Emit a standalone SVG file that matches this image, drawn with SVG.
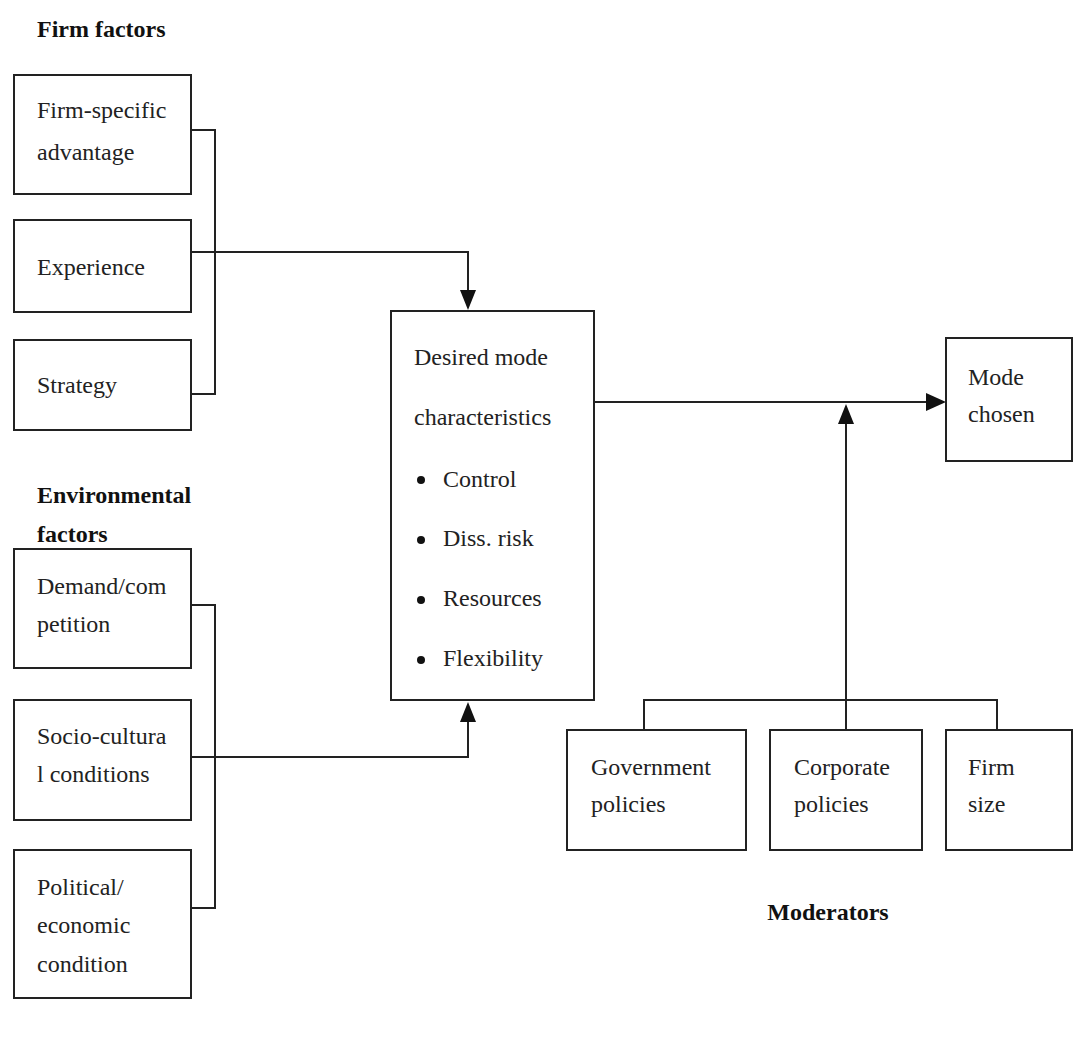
<svg xmlns="http://www.w3.org/2000/svg" width="1091" height="1037" viewBox="0 0 1091 1037">
<style>
.box{fill:#fff;stroke:#222;stroke-width:2}
.t{font-family:'Liberation Serif','Times New Roman','DejaVu Serif',serif;font-size:24px;fill:#222}
.h{font-family:'Liberation Serif','Times New Roman','DejaVu Serif',serif;font-size:24px;font-weight:bold;fill:#111}
.c{fill:none;stroke:#222;stroke-width:2}
</style>
<rect width="1091" height="1037" fill="#fff"/>
<text class="h" x="37" y="37">Firm factors</text>
<text class="h" x="37" y="503">Environmental</text>
<text class="h" x="37" y="542">factors</text>
<text class="h" x="828" y="920" text-anchor="middle">Moderators</text>

<g id="connectors">
<path class="c" d="M191,130 H215 V394 H191"/>
<path class="c" d="M191,252 H468 V294"/>
<path d="M460,290 L476,290 L468,310 z" fill="#111"/>
<path class="c" d="M191,605 H215 V908 H191"/>
<path class="c" d="M191,757 H468 V718"/>
<path d="M460,722 L476,722 L468,702 z" fill="#111"/>
<path class="c" d="M594,402 H930"/>
<path d="M926,393 L946,402 L926,411 z" fill="#111"/>
<path class="c" d="M846,730 V420"/>
<path d="M838,424 L854,424 L846,404 z" fill="#111"/>
<path class="c" d="M644,730 V700 H997 V730"/>
</g>

<g id="n-fsa"><rect class="box" x="14" y="75" width="177" height="119"/><text class="t" x="37" y="118">Firm-specific</text><text class="t" x="37" y="160">advantage</text></g>
<g id="n-exp"><rect class="box" x="14" y="220" width="177" height="92"/><text class="t" x="37" y="275">Experience</text></g>
<g id="n-strat"><rect class="box" x="14" y="340" width="177" height="90"/><text class="t" x="37" y="393">Strategy</text></g>
<g id="n-demand"><rect class="box" x="14" y="549" width="177" height="119"/><text class="t" x="37" y="594">Demand/com</text><text class="t" x="37" y="632">petition</text></g>
<g id="n-socio"><rect class="box" x="14" y="700" width="177" height="120"/><text class="t" x="37" y="744">Socio-cultura</text><text class="t" x="37" y="782">l conditions</text></g>
<g id="n-pol"><rect class="box" x="14" y="850" width="177" height="148"/><text class="t" x="37" y="895">Political/</text><text class="t" x="37" y="933">economic</text><text class="t" x="37" y="972">condition</text></g>
<g id="n-desired"><rect class="box" x="391" y="311" width="203" height="389"/>
<text class="t" x="414" y="365">Desired mode</text><text class="t" x="414" y="425">characteristics</text>
<circle cx="421" cy="480" r="4" fill="#111"/><text class="t" x="443" y="487">Control</text>
<circle cx="421" cy="540" r="4" fill="#111"/><text class="t" x="443" y="546">Diss. risk</text>
<circle cx="421" cy="600" r="4" fill="#111"/><text class="t" x="443" y="606">Resources</text>
<circle cx="421" cy="660" r="4" fill="#111"/><text class="t" x="443" y="666">Flexibility</text>
</g>
<g id="n-mode"><rect class="box" x="946" y="338" width="126" height="123"/><text class="t" x="968" y="385">Mode</text><text class="t" x="968" y="422">chosen</text></g>
<g id="n-gov"><rect class="box" x="567" y="730" width="179" height="120"/><text class="t" x="591" y="775">Government</text><text class="t" x="591" y="812">policies</text></g>
<g id="n-corp"><rect class="box" x="770" y="730" width="152" height="120"/><text class="t" x="794" y="775">Corporate</text><text class="t" x="794" y="812">policies</text></g>
<g id="n-size"><rect class="box" x="946" y="730" width="126" height="120"/><text class="t" x="968" y="775">Firm</text><text class="t" x="968" y="812">size</text></g>
</svg>
